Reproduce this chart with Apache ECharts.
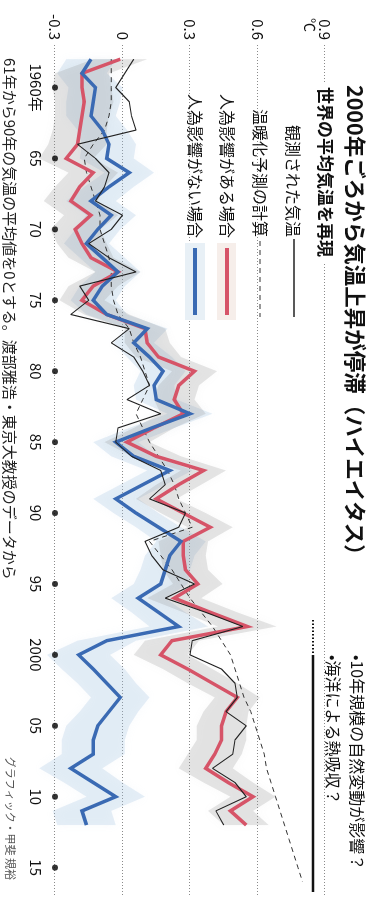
<!DOCTYPE html>
<html>
<head>
<meta charset="utf-8">
<script src="https://cdn.jsdelivr.net/npm/echarts@6.0.0/dist/echarts.min.js"></script>
<style>
  html, body { margin: 0; padding: 0; background: #fff; }
  body { width: 373px; height: 899px; overflow: hidden; position: relative; }
  /* the newspaper graphic is printed sideways: draw it landscape, then turn it */
  #chart {
    position: absolute; left: 0; top: 0;
    width: 899px; height: 373px;
    transform-origin: 0 0;
    transform: translate(373px, 0) rotate(90deg);
  }
</style>
</head>
<body>
<div id="chart"></div>
<script>
const FONT = '"Noto Sans CJK JP", sans-serif';

// 観測された気温 1958-2012 (℃, 61-90年平均=0)
const observed = [
  0.05, 0.01, -0.03, 0.03, 0.04, 0.06, -0.20, -0.12, -0.06, -0.08,
  -0.12, 0.00, -0.05, -0.15, -0.06, 0.06, -0.19, -0.15, -0.23, 0.03,
  -0.05, 0.05, 0.09, 0.12, 0.02, 0.17, -0.02, -0.03, 0.04, 0.17,
  0.19, 0.12, 0.28, 0.25, 0.10, 0.13, 0.18, 0.32, 0.19, 0.37,
  0.535, 0.31, 0.30, 0.44, 0.50, 0.51, 0.46, 0.55, 0.50, 0.49,
  0.40, 0.50, 0.55, 0.415, 0.45
];
// 温暖化予測の計算 1958-2016
const projection = [
  -0.05, -0.05, -0.05, -0.05, -0.06, -0.08, -0.13, -0.17, -0.16, -0.14,
  -0.12, -0.10, -0.10, -0.08, -0.06, -0.05, -0.05, -0.04, -0.02, 0.03,
  0.05, 0.08, 0.10, 0.12, 0.09, 0.06, 0.09, 0.12, 0.16, 0.20,
  0.23, 0.25, 0.28, 0.31, 0.12, 0.17, 0.22, 0.26, 0.30, 0.35,
  0.40, 0.44, 0.48, 0.50, 0.52, 0.54, 0.57, 0.59, 0.61, 0.63,
  0.64, 0.66, 0.68, 0.70, 0.72, 0.74, 0.76, 0.78, 0.80
];
// 人為影響がある場合 1958-2012
const withHuman = [
  -0.01, -0.18, -0.18, -0.17, -0.18, -0.19, -0.20, -0.25, -0.13, -0.19,
  -0.23, -0.14, -0.21, -0.18, -0.14, -0.02, -0.13, -0.18, -0.07, 0.10,
  0.11, 0.16, 0.32, 0.25, 0.23, 0.27, 0.14, 0.02, 0.15, 0.36,
  0.25, 0.15, 0.27, 0.39, 0.27, 0.27, 0.28, 0.335, 0.23, 0.39,
  0.555, 0.22, 0.17, 0.29, 0.40, 0.51, 0.46, 0.44, 0.44, 0.41,
  0.37, 0.47, 0.58, 0.48, 0.55
];
// 人為影響がない場合 1958-2012
const noHuman = [
  -0.14, -0.18, -0.12, -0.13, -0.14, -0.09, -0.06, -0.07, 0.03, -0.06,
  -0.14, -0.05, -0.11, -0.16, -0.09, -0.02, -0.09, -0.13, -0.07, 0.11,
  0.05, 0.12, 0.18, 0.14, 0.15, 0.30, 0.13, -0.03, 0.05, 0.21,
  0.09, -0.03, 0.06, 0.16, 0.26, 0.21, 0.19, 0.17, 0.07, 0.16,
  0.25, -0.07, -0.195, -0.13, -0.07, -0.01, -0.06, -0.11, -0.13, -0.13,
  -0.23, -0.13, -0.03, -0.18, -0.16
];
const withHumanSpread = [
  0.12, 0.12, 0.13, 0.13, 0.12, 0.12, 0.13, 0.12, 0.11, 0.11,
  0.12, 0.12, 0.11, 0.11, 0.10, 0.10, 0.11, 0.10, 0.10, 0.09,
  0.10, 0.10, 0.10, 0.09, 0.09, 0.10, 0.09, 0.10, 0.11, 0.10,
  0.10, 0.09, 0.10, 0.10, 0.11, 0.10, 0.10, 0.11, 0.12, 0.12,
  0.13, 0.12, 0.12, 0.11, 0.11, 0.10, 0.10, 0.11, 0.11, 0.12,
  0.12, 0.11, 0.10, 0.10, 0.10
];
const noHumanSpread = [
  0.11, 0.11, 0.12, 0.12, 0.11, 0.11, 0.12, 0.12, 0.11, 0.11,
  0.11, 0.11, 0.10, 0.10, 0.10, 0.10, 0.10, 0.10, 0.09, 0.09,
  0.09, 0.10, 0.10, 0.09, 0.09, 0.10, 0.10, 0.10, 0.10, 0.10,
  0.10, 0.10, 0.10, 0.10, 0.11, 0.11, 0.11, 0.12, 0.12, 0.12,
  0.13, 0.13, 0.14, 0.14, 0.13, 0.13, 0.13, 0.14, 0.14, 0.14,
  0.14, 0.13, 0.13, 0.13, 0.13
];
const firstYear = 1958;

const tickYears = [1960, 1965, 1970, 1975, 1980, 1985, 1990, 1995, 2000, 2005, 2010, 2015];
const tickLabels = ['1960年', '65', '70', '75', '80', '85', '90', '95', '2000', '05', '10', '15'];

const RED = '#d65468';
const BLUE = '#3a6ab3';

function toPairs(values) {
  return values.map((v, i) => [firstYear + i, v]);
}

function bandSeries(center, spread, fill) {
  return {
    type: 'custom',
    silent: true,
    z: 1,
    data: [[firstYear, center[0]]],
    renderItem(params, api) {
      const pts = [];
      for (let i = 0; i < center.length; i++) {
        pts.push(api.coord([firstYear + i, center[i] + spread[i]]));
      }
      for (let i = center.length - 1; i >= 0; i--) {
        pts.push(api.coord([firstYear + i, center[i] - spread[i]]));
      }
      return {
        type: 'polygon',
        shape: { points: pts },
        style: { fill: fill, shadowBlur: 10, shadowColor: fill }
      };
    }
  };
}

function txt(x, y, text, font, extra) {
  return {
    type: 'text', x: x, y: y, z: 50,
    style: Object.assign({ text: text, font: font, fill: '#111', verticalAlign: 'middle' }, extra || {})
  };
}
function seg(x1, y1, x2, y2, stroke, w, dash) {
  return {
    type: 'line', z: 50,
    shape: { x1: x1, y1: y1, x2: x2, y2: y2 },
    style: { stroke: stroke, lineWidth: w, lineDash: dash || null }
  };
}

const chart = echarts.init(document.getElementById('chart'));

const option = {
  animation: false,
  backgroundColor: '#fff',
  textStyle: { fontFamily: FONT },
  grid: { left: 45, top: 48, width: 856, height: 270 },
  xAxis: {
    type: 'value',
    min: 1957,
    max: 2017,
    interval: 1,
    axisLine: { show: false },
    axisTick: { show: false },
    splitLine: { show: false },
    axisLabel: {
      margin: 12,
      fontSize: 15,
      color: '#111',
      fontFamily: FONT,
      formatter(v) {
        const k = tickYears.indexOf(v);
        return k >= 0 ? tickLabels[k] : '';
      }
    }
  },
  yAxis: {
    type: 'value',
    min: -0.3,
    max: 0.9,
    interval: 0.3,
    axisLine: { show: false },
    axisTick: { show: false },
    splitLine: { lineStyle: { color: '#8a8a8a', width: 1, type: [1, 2] } },
    axisLabel: {
      margin: 5,
      fontSize: 15,
      color: '#111',
      fontFamily: FONT,
      formatter(v) {
        return Math.abs(v) < 1e-9 ? '0' : v.toFixed(1);
      }
    }
  },
  series: [
    bandSeries(noHuman, noHumanSpread, 'rgba(160,195,225,0.26)'),
    bandSeries(withHuman, withHumanSpread, 'rgba(140,140,140,0.22)'),
    {
      name: '温暖化予測の計算',
      type: 'line',
      data: toPairs(projection),
      symbol: 'none',
      z: 3,
      lineStyle: { color: '#333', width: 1, type: [5, 4] }
    },
    {
      name: '人為影響がある場合',
      type: 'line',
      data: toPairs(withHuman),
      symbol: 'none',
      z: 4,
      lineStyle: { color: RED, width: 3.5, join: 'miter' }
    },
    {
      name: '人為影響がない場合',
      type: 'line',
      data: toPairs(noHuman),
      symbol: 'none',
      z: 5,
      lineStyle: { color: BLUE, width: 3.5, join: 'miter' }
    },
    {
      name: '観測された気温',
      type: 'line',
      data: toPairs(observed),
      symbol: 'none',
      z: 6,
      lineStyle: { color: '#222', width: 1.1 }
    },
    {
      type: 'scatter',
      data: tickYears.map(y => [y, -0.3]),
      symbolSize: 6,
      z: 7,
      itemStyle: { color: '#000' }
    }
  ],
  graphic: [
    txt(85, 18, '2000年ごろから気温上昇が停滞（ハイエイタス）', 'bold 21.5px ' + FONT),
    { type: 'rect', z: 40, shape: { x: 84, y: 39, width: 180, height: 19 }, style: { fill: '#fff' } },
    txt(87, 48, '世界の平均気温を再現', 'bold 17px ' + FONT),
    txt(237, 80, '観測された気温', '16px ' + FONT, { align: 'right' }),
    txt(237, 113, '温暖化予測の計算', '16px ' + FONT, { align: 'right' }),
    txt(238, 146, '人為影響がある場合', '16px ' + FONT, { align: 'right' }),
    txt(238, 178, '人為影響がない場合', '16px ' + FONT, { align: 'right' }),
    seg(239, 79, 317, 79, '#222', 1.5),
    seg(241, 113, 317, 113, '#333', 1.2, [5, 4]),
    { type: 'rect', z: 45, shape: { x: 243, y: 137, width: 77, height: 19 }, style: { fill: '#f6eeea' } },
    seg(248, 146, 315, 146, RED, 4),
    { type: 'rect', z: 45, shape: { x: 243, y: 168, width: 77, height: 20 }, style: { fill: '#e8f0f6' } },
    seg(248, 178, 315, 178, BLUE, 4),
    txt(25, 63, '℃', '14px ' + FONT, { align: 'center' }),
    txt(655, 16, '•10年規模の自然変動が影響？', '16px ' + FONT),
    txt(655, 40, '•海洋による熱吸収？', '16px ' + FONT),
    seg(620, 60, 655, 60, '#111', 2, [1.5, 2]),
    seg(655, 60, 892, 60, '#111', 2.5),
    txt(58, 363, '61年から90年の気温の平均値を0とする。渡部雅浩・東京大教授のデータから', '15px ' + FONT, { fill: '#222' }),
    txt(880, 363, 'グラフィック・甲斐 規裕', '11px ' + FONT, { fill: '#555', align: 'right' })
  ]
};

chart.setOption(option);
</script>
</body>
</html>
